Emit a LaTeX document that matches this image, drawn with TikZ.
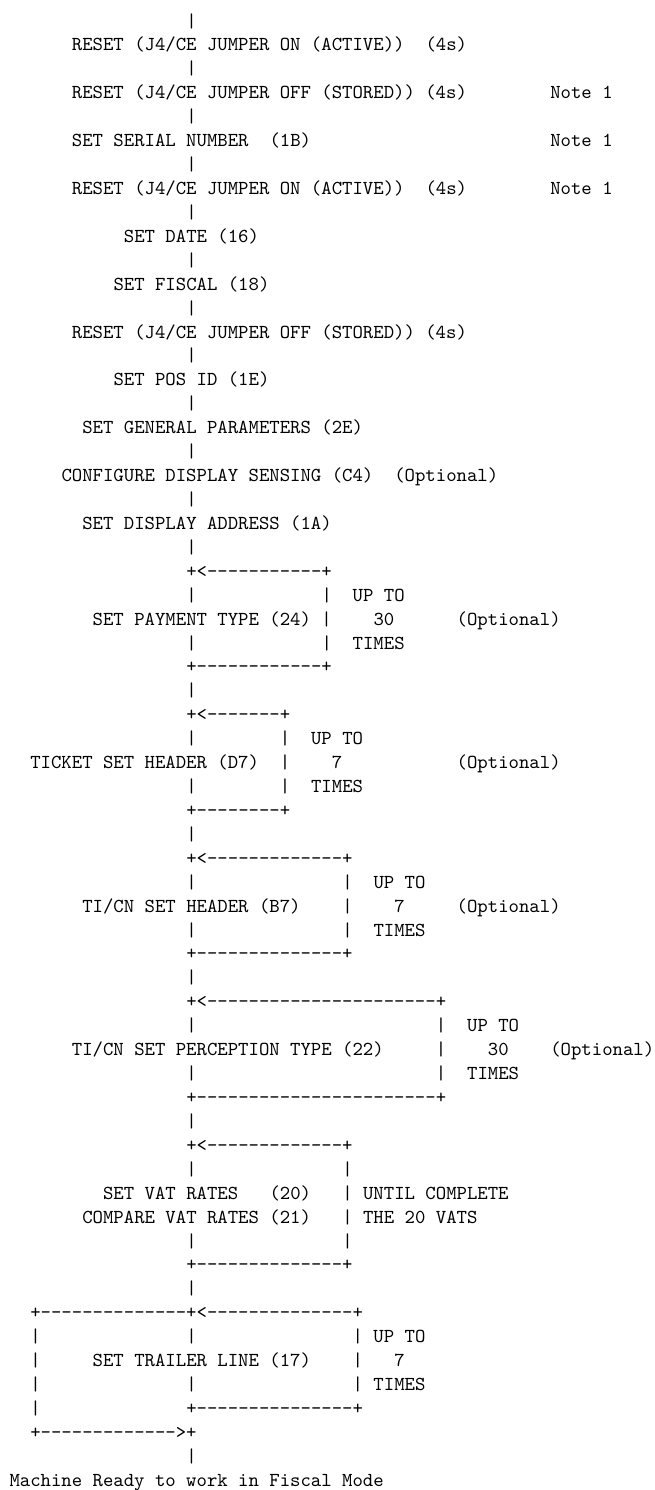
\documentclass[tikz,border=0pt]{standalone}
\usepackage{fontspec}
\newfontfamily\ascfont{lmmono10-regular.otf}[Ligatures=TeXOff]
\tikzset{asc/.style={anchor=base west,inner sep=0pt,outer sep=0pt,font=\ascfont\fontsize{19.8pt}{24pt}\selectfont,text=black}}
\newcommand\tx[3]{\node[asc] (r#1c#2) at ({9.5pt+10.4pt*#2},{-3.16pt-23.92pt*#1}) {#3};}
\begin{document}
\begin{tikzpicture}
\useasboundingbox[fill=white] (0,0) rectangle (655pt,-1490pt);
\tx{1}{17}{|}
\tx{2}{6}{RESET (J4/CE JUMPER ON (ACTIVE))}\tx{2}{40}{(4s)}
\tx{3}{17}{|}
\tx{4}{6}{RESET (J4/CE JUMPER OFF (STORED)) (4s)}\tx{4}{52}{Note 1}
\tx{5}{17}{|}
\tx{6}{6}{SET SERIAL NUMBER}\tx{6}{25}{(1B)}\tx{6}{52}{Note 1}
\tx{7}{17}{|}
\tx{8}{6}{RESET (J4/CE JUMPER ON (ACTIVE))}\tx{8}{40}{(4s)}\tx{8}{52}{Note 1}
\tx{9}{17}{|}
\tx{10}{11}{SET DATE (16)}
\tx{11}{17}{|}
\tx{12}{10}{SET FISCAL (18)}
\tx{13}{17}{|}
\tx{14}{6}{RESET (J4/CE JUMPER OFF (STORED)) (4s)}
\tx{15}{17}{|}
\tx{16}{10}{SET POS ID (1E)}
\tx{17}{17}{|}
\tx{18}{7}{SET GENERAL PARAMETERS (2E)}
\tx{19}{17}{|}
\tx{20}{5}{CONFIGURE DISPLAY SENSING (C4)}\tx{20}{37}{(Optional)}
\tx{21}{17}{|}
\tx{22}{7}{SET DISPLAY ADDRESS (1A)}
\tx{23}{17}{|}
% payment loop
\tx{24}{17}{+<-----------+}
\tx{25}{17}{|}\tx{25}{30}{|}\tx{25}{33}{UP TO}
\tx{26}{8}{SET PAYMENT TYPE (24) |}\tx{26}{35}{30}\tx{26}{43}{(Optional)}
\tx{27}{17}{|}\tx{27}{30}{|}\tx{27}{33}{TIMES}
\tx{28}{17}{+------------+}
\tx{29}{17}{|}
% ticket header loop
\tx{30}{17}{+<-------+}
\tx{31}{17}{|}\tx{31}{26}{|}\tx{31}{29}{UP TO}
\tx{32}{2}{TICKET SET HEADER (D7)}\tx{32}{26}{|}\tx{32}{31}{7}\tx{32}{43}{(Optional)}
\tx{33}{17}{|}\tx{33}{26}{|}\tx{33}{29}{TIMES}
\tx{34}{17}{+--------+}
\tx{35}{17}{|}
% TI/CN header loop
\tx{36}{17}{+<-------------+}
\tx{37}{17}{|}\tx{37}{32}{|}\tx{37}{35}{UP TO}
\tx{38}{7}{TI/CN SET HEADER (B7)}\tx{38}{32}{|}\tx{38}{37}{7}\tx{38}{43}{(Optional)}
\tx{39}{17}{|}\tx{39}{32}{|}\tx{39}{35}{TIMES}
\tx{40}{17}{+--------------+}
\tx{41}{17}{|}
% perception loop
\tx{42}{17}{+<----------------------+}
\tx{43}{17}{|}\tx{43}{41}{|}\tx{43}{44}{UP TO}
\tx{44}{6}{TI/CN SET PERCEPTION TYPE (22)}\tx{44}{41}{|}\tx{44}{46}{30}\tx{44}{52}{(Optional)}
\tx{45}{17}{|}\tx{45}{41}{|}\tx{45}{44}{TIMES}
\tx{46}{17}{+-----------------------+}
\tx{47}{17}{|}
% VAT loop
\tx{48}{17}{+<-------------+}
\tx{49}{17}{|}\tx{49}{32}{|}
\tx{50}{9}{SET VAT RATES}\tx{50}{25}{(20)}\tx{50}{32}{| UNTIL COMPLETE}
\tx{51}{7}{COMPARE VAT RATES (21)}\tx{51}{32}{| THE 20 VATS}
\tx{52}{17}{|}\tx{52}{32}{|}
\tx{53}{17}{+--------------+}
\tx{54}{17}{|}
% trailer loop
\tx{55}{2}{+--------------+<--------------+}
\tx{56}{2}{|}\tx{56}{17}{|}\tx{56}{33}{| UP TO}
\tx{57}{2}{|}\tx{57}{8}{SET TRAILER LINE (17)}\tx{57}{33}{|}\tx{57}{37}{7}
\tx{58}{2}{|}\tx{58}{17}{|}\tx{58}{33}{| TIMES}
\tx{59}{2}{|}\tx{59}{17}{+---------------+}
\tx{60}{2}{+------------->+}
\tx{61}{17}{|}
\tx{62}{0}{Machine Ready to work in Fiscal Mode}
\end{tikzpicture}
\end{document}
